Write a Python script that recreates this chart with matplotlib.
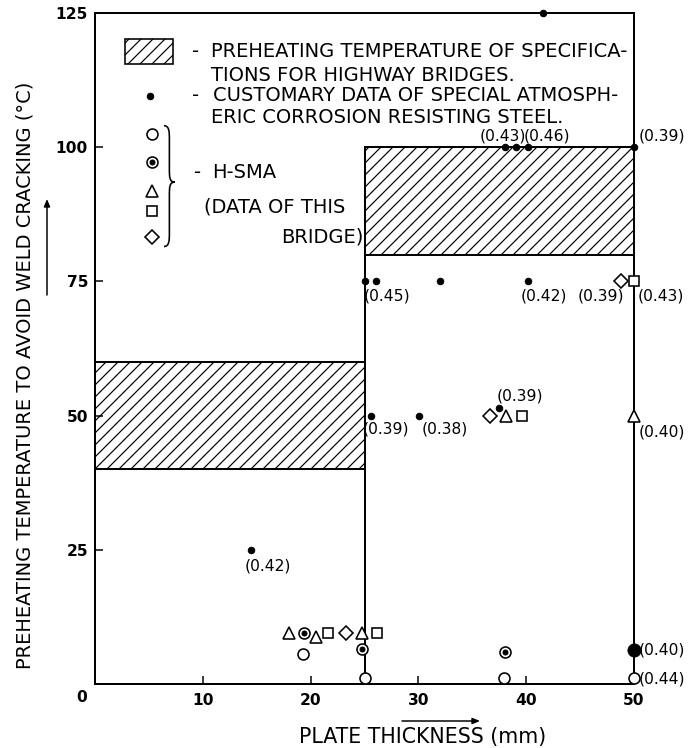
import matplotlib
matplotlib.use("Agg")
import matplotlib.pyplot as plt
from matplotlib.patches import Rectangle, PathPatch
from matplotlib.path import Path

# specification bands (hatched)
spec_x0 = [0, 25]
spec_x1 = [25, 50]
spec_lo = [40, 80]
spec_hi = [60, 100]

# customary data of special atmospheric corrosion resisting steel
cust_x = [41.6, 38.0, 39.1, 40.2, 50.0, 25.0, 26.1, 32.0, 40.2, 25.6, 30.1, 37.5, 14.5]
cust_y = [125, 100, 100, 100, 100, 75, 75, 75, 75, 50, 50, 51.4, 25]

# H-SMA, data of this bridge
circ_x = [19.3, 25.0, 37.9, 50.0]
circ_y = [5.5, 1.2, 1.2, 1.2]
bull_x = [19.4, 24.8, 38.0]
bull_y = [9.5, 6.5, 6.0]
fill_x = [50.0]
fill_y = [6.3]
tri_x = [18.0, 20.5, 24.8, 38.1, 50.0]
tri_y = [9.5, 8.7, 9.5, 50, 50]
sq_x = [21.6, 26.2, 39.6, 50.0]
sq_y = [9.5, 9.5, 50, 75]
dia_x = [23.3, 36.6, 48.8]
dia_y = [9.5, 50, 75]

# carbon equivalent labels
ceq_x = [37.8, 41.95, 52.6, 27.1, 41.6, 46.9, 52.5, 27.0, 32.4, 39.4, 52.6, 16.0, 52.6, 52.6]
ceq_y = [102.0, 102.0, 102.0, 72.2, 72.2, 72.2, 72.2, 47.5, 47.5, 53.7, 47.0, 21.9, 6.3, 1.0]
ceq_txt = ["(0.43)", "(0.46)", "(0.39)", "(0.45)", "(0.42)", "(0.39)", "(0.43)",
           "(0.39)", "(0.38)", "(0.39)", "(0.40)", "(0.42)", "(0.40)", "(0.44)"]

xticks = [0, 10, 20, 30, 40, 50]
yticks = [25, 50, 75, 100, 125]

plt.rcParams['hatch.linewidth'] = 1.2
FONT = ['DejaVu Sans']

W, H = 691, 748
fig = plt.figure(figsize=(W / 72, H / 72), dpi=72)
ax = fig.add_axes([95 / W, 1 - 684 / H, (634 - 95) / W, (684 - 13) / H])
ax.set_xlim(0, 50)
ax.set_ylim(0, 125)
for s in ax.spines.values():
    s.set_linewidth(2)

# hatched bands and step line
for x0, x1, lo, hi in zip(spec_x0, spec_x1, spec_lo, spec_hi):
    ax.add_patch(Rectangle((x0, lo), x1 - x0, hi - lo, fill=False, hatch='//',
                           edgecolor='black', lw=2))
ax.plot([spec_x1[0], spec_x1[0]], [0, spec_hi[1]], color='black', lw=2)

# data points
ax.plot(cust_x, cust_y, 'o', color='black', ms=6.5, clip_on=False, zorder=5)
ax.plot(circ_x, circ_y, 'o', mfc='white', mec='black', mew=1.6, ms=11, clip_on=False, zorder=5)
ax.plot(bull_x, bull_y, 'o', mfc='white', mec='black', mew=1.6, ms=11, clip_on=False, zorder=5)
ax.plot(bull_x, bull_y, 'o', color='black', ms=5, clip_on=False, zorder=6)
ax.plot(fill_x, fill_y, 'o', color='black', ms=13, clip_on=False, zorder=5)
ax.plot(tri_x, tri_y, '^', mfc='white', mec='black', mew=1.6, ms=12, clip_on=False, zorder=5)
ax.plot(sq_x, sq_y, 's', mfc='white', mec='black', mew=1.6, ms=10, clip_on=False, zorder=5)
ax.plot(dia_x, dia_y, 'D', mfc='white', mec='black', mew=1.6, ms=9.5, clip_on=False, zorder=5)

for x, y, t in zip(ceq_x, ceq_y, ceq_txt):
    ax.text(x, y, t, ha='center', va='center', fontsize=15.5, family=FONT, clip_on=False)

# legend
ax.add_patch(Rectangle((2.8, 115.5), 4.4, 4.7, fill=False, hatch='//', edgecolor='black', lw=1.6))
lt = dict(fontsize=19.5, family=FONT, va='center', ha='left')
ax.text(9.0, 117.8, '-', **lt)
ax.text(10.8, 117.8, 'PREHEATING TEMPERATURE OF SPECIFICA-', **lt)
ax.text(10.8, 113.3, 'TIONS FOR HIGHWAY BRIDGES.', **lt)
ax.plot([5.1], [109.6], 'o', color='black', ms=6.5)
ax.text(9.0, 109.6, '-', **lt)
ax.text(10.9, 109.6, 'CUSTOMARY DATA OF SPECIAL ATMOSPH-', **lt)
ax.text(10.8, 105.6, 'ERIC CORROSION RESISTING STEEL.', **lt)

leg_y = [102.5, 97.2, 91.9, 88.2, 83.2]
ax.plot([5.3], [leg_y[0]], 'o', mfc='white', mec='black', mew=1.6, ms=11)
ax.plot([5.3], [leg_y[1]], 'o', mfc='white', mec='black', mew=1.6, ms=11)
ax.plot([5.3], [leg_y[1]], 'o', color='black', ms=5)
ax.plot([5.3], [leg_y[2]], '^', mfc='white', mec='black', mew=1.6, ms=12)
ax.plot([5.3], [leg_y[3]], 's', mfc='white', mec='black', mew=1.6, ms=10)
ax.plot([5.3], [leg_y[4]], 'D', mfc='white', mec='black', mew=1.6, ms=9.5)

# brace
bx, bw, top, bot, mid = 6.4, 1.0, 104.0, 81.5, 93.5
cx = bx + bw / 2
verts = [(bx, top), (cx, top), (cx, top - 1.2), (cx, top - 2.5),
         (cx, mid + 2.5), (cx, mid + 1.0), (cx, mid), (bx + bw, mid),
         (cx, mid), (cx, mid - 1.0), (cx, mid - 2.5),
         (cx, bot + 2.5), (cx, bot + 1.2), (cx, bot), (bx, bot)]
codes = [Path.MOVETO, Path.CURVE4, Path.CURVE4, Path.CURVE4,
         Path.LINETO, Path.CURVE4, Path.CURVE4, Path.CURVE4,
         Path.CURVE4, Path.CURVE4, Path.CURVE4,
         Path.LINETO, Path.CURVE4, Path.CURVE4, Path.CURVE4]
ax.add_patch(PathPatch(Path(verts, codes), fill=False, lw=1.6, edgecolor='black'))

ax.text(9.2, 95.3, '-', **lt)
ax.text(10.9, 95.3, 'H-SMA', **lt)
ax.text(10.1, 88.8, '(DATA OF THIS', **lt)
ax.text(24.9, 83.2, 'BRIDGE)', fontsize=19.5, family=FONT, va='center', ha='right')

# ticks
ax.set_xticks(xticks[1:])
ax.set_xticklabels([str(v) for v in xticks[1:]], fontsize=15.5, family=FONT, fontweight='bold')
ax.set_yticks(yticks)
ax.set_yticklabels([str(v) for v in yticks], fontsize=15.5, family=FONT, fontweight='bold')
ax.tick_params(direction='in', length=8, width=1.5, pad=7)
ax.tick_params(axis='x', pad=9)
ax.annotate('0', (0, 0), xytext=(-13, -13), textcoords='offset points',
            ha='center', va='center', fontsize=15.5, family=FONT, fontweight='bold')

# axis titles with arrows
fig.text(25 / W, 1 - 375 / H, 'PREHEATING TEMPERATURE TO AVOID WELD CRACKING (°C)',
         rotation=90, ha='center', va='center', fontsize=19.5, family=FONT)
fig.text(423 / W, 1 - 737 / H, 'PLATE THICKNESS (mm)', ha='center', va='center',
         fontsize=20.5, family=FONT)
fig.patches.append(matplotlib.patches.FancyArrowPatch(
    (47 / W, 1 - 297 / H), (47 / W, 1 - 197 / H), transform=fig.transFigure,
    arrowstyle='-|>,head_length=6,head_width=2.5', lw=1.5, color='black'))
fig.patches.append(matplotlib.patches.FancyArrowPatch(
    (400 / W, 1 - 721 / H), (482 / W, 1 - 721 / H), transform=fig.transFigure,
    arrowstyle='-|>,head_length=6,head_width=2.5', lw=1.5, color='black'))

fig.savefig('out.png', dpi=72)
